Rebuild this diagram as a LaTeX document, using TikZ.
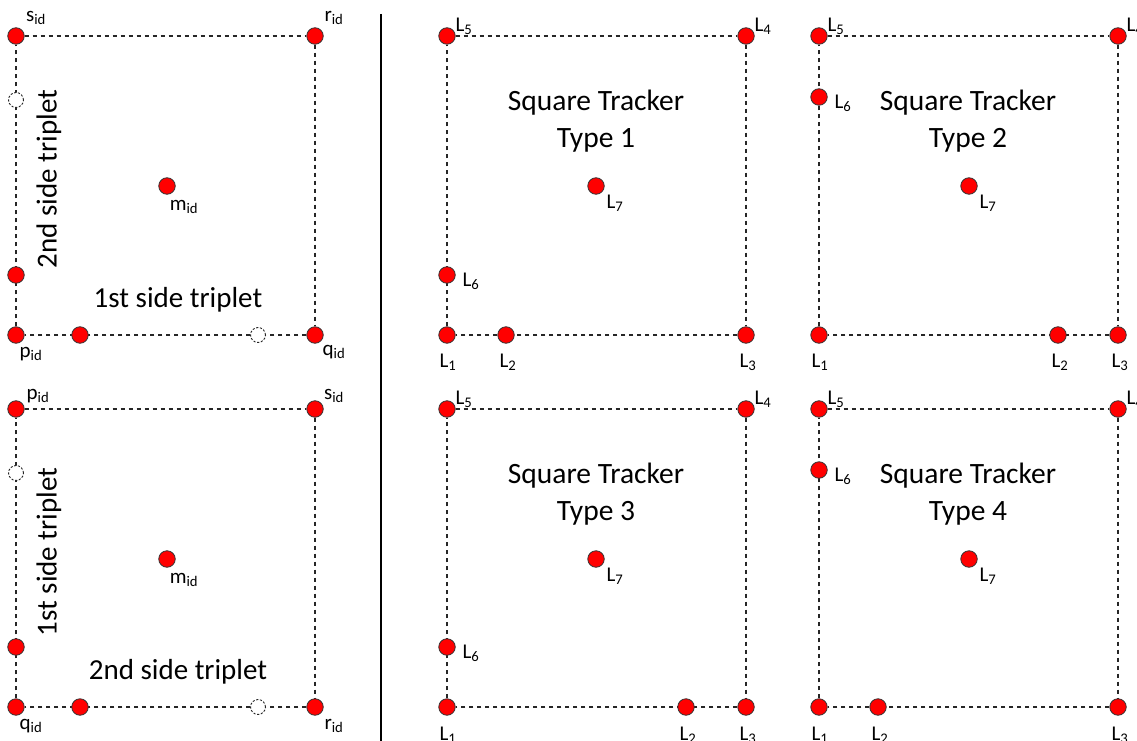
\documentclass[tikz,border=0pt]{standalone}
\usepackage{fontspec}
\setmainfont{Carlito}
\usetikzlibrary{backgrounds}
\tikzset{
  dot/.style={circle, draw=black!80, fill=red, minimum size=16.5pt, inner sep=0pt, line width=0.8pt},
  ghost/.style={circle, draw=black!85, fill=white, dash pattern=on 2.2pt off 1.6pt, minimum size=15pt, inner sep=0pt, line width=0.9pt},
  edge/.style={draw=black!85, dash pattern=on 4.5pt off 3.5pt, line width=1.1pt},
  lbl/.style={font=\fontsize{21}{21}\selectfont, inner sep=0pt},
  ttl/.style={font=\fontsize{29.5}{37}\selectfont, align=center, inner sep=0pt},
  side/.style={font=\fontsize{29}{29}\selectfont, inner sep=0pt},
}
\begin{document}
\begin{tikzpicture}[x=1pt,y=-1pt]
\useasboundingbox (0,0) rectangle (1137,741);
% separator
\coordinate (sepT) at (381,14);
\coordinate (sepB) at (381,741);
\draw[line width=1.1pt] (sepT) -- (sepB);

% ---------- Panel A (top-left) ----------
\node[dot] (As) at (16,36) {};
\node[dot] (Ar) at (315,36) {};
\node[dot] (Ap) at (16,335) {};
\node[dot] (Aq) at (315,335) {};
\node[dot] (Am) at (167,186) {};
\node[dot] (Aa) at (16,275) {};
\node[ghost] (Ag) at (16,100) {};
\node[dot] (Ab) at (80,335) {};
\node[ghost] (Ah) at (258,335) {};
\begin{scope}[on background layer]
\draw[edge] (As) -- (Ar) -- (Aq) -- (Ap) -- (As);
\end{scope}
\node[lbl] (Als) at (36,18) {s\textsubscript{id}};
\node[lbl] (Alr) at (334,18) {r\textsubscript{id}};
\node[lbl] (Alp) at (31,354) {p\textsubscript{id}};
\node[lbl] (Alq) at (334,352) {q\textsubscript{id}};
\node[lbl] (Alm) at (184,207) {m\textsubscript{id}};
\node[side, rotate=90] (At1) at (49,179) {2nd side triplet};
\node[side] (At2) at (178,300) {1st side triplet};

% ---------- Panel C (bottom-left) ----------
\node[dot] (Cp) at (16,409) {};
\node[dot] (Cs) at (315,409) {};
\node[dot] (Cq) at (16,707) {};
\node[dot] (Cr) at (315,707) {};
\node[dot] (Cm) at (167,559) {};
\node[dot] (Ca) at (16,647) {};
\node[ghost] (Cg) at (16,473) {};
\node[dot] (Cb) at (80,707) {};
\node[ghost] (Ch) at (258,707) {};
\begin{scope}[on background layer]
\draw[edge] (Cp) -- (Cs) -- (Cr) -- (Cq) -- (Cp);
\end{scope}
\node[lbl] (Clp) at (38,396) {p\textsubscript{id}};
\node[lbl] (Cls) at (334,396) {s\textsubscript{id}};
\node[lbl] (Clq) at (31,726) {q\textsubscript{id}};
\node[lbl] (Clr) at (334,726) {r\textsubscript{id}};
\node[lbl] (Clm) at (184,580) {m\textsubscript{id}};
\node[side, rotate=90] (Ct1) at (49,552) {1st side triplet};
\node[side] (Ct2) at (178,672) {2nd side triplet};

% ---------- Type 1 ----------
\node[dot] (B5) at (447,36) {};
\node[dot] (B4) at (746,36) {};
\node[dot] (B1) at (447,335) {};
\node[dot] (B3) at (746,335) {};
\node[dot] (B7) at (596,186) {};
\node[dot] (B6) at (447,275) {};
\node[dot] (B2) at (506,335) {};
\begin{scope}[on background layer]
\draw[edge] (B5) -- (B4) -- (B3) -- (B1) -- (B5);
\end{scope}
\node[lbl] (Bl5) at (464,26) {L\textsubscript{5}};
\node[lbl] (Bl4) at (763,26) {L\textsubscript{4}};
\node[lbl] (Bl1) at (448,362) {L\textsubscript{1}};
\node[lbl] (Bl2) at (508,362) {L\textsubscript{2}};
\node[lbl] (Bl3) at (748,362) {L\textsubscript{3}};
\node[lbl] (Bl6) at (471,281) {L\textsubscript{6}};
\node[lbl] (Bl7) at (615,203) {L\textsubscript{7}};
\node[ttl] (Bt) at (596,121) {Square Tracker\\Type 1};

% ---------- Type 2 ----------
\node[dot] (D5) at (819,36) {};
\node[dot] (D4) at (1118,36) {};
\node[dot] (D1) at (819,335) {};
\node[dot] (D3) at (1118,335) {};
\node[dot] (D7) at (969,186) {};
\node[dot] (D6) at (819,97) {};
\node[dot] (D2) at (1058,335) {};
\begin{scope}[on background layer]
\draw[edge] (D5) -- (D4) -- (D3) -- (D1) -- (D5);
\end{scope}
\node[lbl] (Dl5) at (836,26) {L\textsubscript{5}};
\node[lbl] (Dl4) at (1135,26) {L\textsubscript{4}};
\node[lbl] (Dl1) at (820,362) {L\textsubscript{1}};
\node[lbl] (Dl2) at (1060,362) {L\textsubscript{2}};
\node[lbl] (Dl3) at (1120,362) {L\textsubscript{3}};
\node[lbl] (Dl6) at (843,103) {L\textsubscript{6}};
\node[lbl] (Dl7) at (988,203) {L\textsubscript{7}};
\node[ttl] (Dt) at (968,121) {Square Tracker\\Type 2};

% ---------- Type 3 ----------
\node[dot] (E5) at (447,409) {};
\node[dot] (E4) at (746,409) {};
\node[dot] (E1) at (447,707) {};
\node[dot] (E3) at (746,707) {};
\node[dot] (E7) at (596,559) {};
\node[dot] (E6) at (447,647) {};
\node[dot] (E2) at (686,707) {};
\begin{scope}[on background layer]
\draw[edge] (E5) -- (E4) -- (E3) -- (E1) -- (E5);
\end{scope}
\node[lbl] (El5) at (464,399) {L\textsubscript{5}};
\node[lbl] (El4) at (763,399) {L\textsubscript{4}};
\node[lbl] (El1) at (448,735) {L\textsubscript{1}};
\node[lbl] (El2) at (688,735) {L\textsubscript{2}};
\node[lbl] (El3) at (748,735) {L\textsubscript{3}};
\node[lbl] (El6) at (471,653) {L\textsubscript{6}};
\node[lbl] (El7) at (615,576) {L\textsubscript{7}};
\node[ttl] (Et) at (596,494) {Square Tracker\\Type 3};

% ---------- Type 4 ----------
\node[dot] (F5) at (819,409) {};
\node[dot] (F4) at (1118,409) {};
\node[dot] (F1) at (819,707) {};
\node[dot] (F3) at (1118,707) {};
\node[dot] (F7) at (969,559) {};
\node[dot] (F6) at (819,470) {};
\node[dot] (F2) at (878,707) {};
\begin{scope}[on background layer]
\draw[edge] (F5) -- (F4) -- (F3) -- (F1) -- (F5);
\end{scope}
\node[lbl] (Fl5) at (836,399) {L\textsubscript{5}};
\node[lbl] (Fl4) at (1135,399) {L\textsubscript{4}};
\node[lbl] (Fl1) at (820,735) {L\textsubscript{1}};
\node[lbl] (Fl2) at (880,735) {L\textsubscript{2}};
\node[lbl] (Fl3) at (1120,735) {L\textsubscript{3}};
\node[lbl] (Fl6) at (843,476) {L\textsubscript{6}};
\node[lbl] (Fl7) at (988,576) {L\textsubscript{7}};
\node[ttl] (Ft) at (968,494) {Square Tracker\\Type 4};
\end{tikzpicture}
\end{document}
